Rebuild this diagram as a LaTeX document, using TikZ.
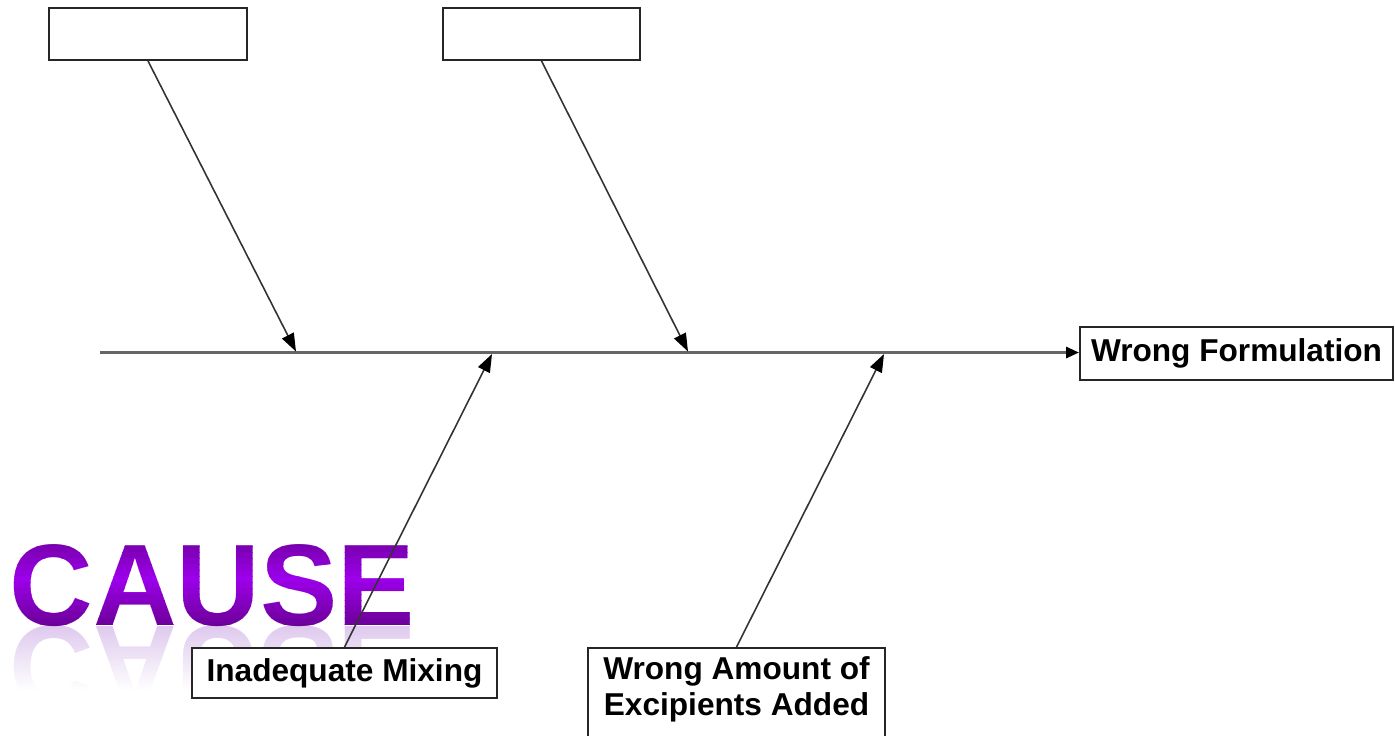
\documentclass[tikz,border=0pt]{standalone}
\usepackage{fontspec}
\setmainfont{Liberation Sans}
\usetikzlibrary{arrows.meta,fadings}

\definecolor{causebright}{HTML}{9C00EA}
\definecolor{causedark}{HTML}{6A0096}
\definecolor{causeglow}{HTML}{D2B4E8}
\tikzfading[name=reflectfade, top color=transparent!100, bottom color=transparent!0]

\begin{document}
\begin{tikzpicture}[x=0.02cm, y=-0.02cm,
  labelbox/.style={draw=black!85, line width=1.1pt, fill=white,
    font=\fontsize{18}{20.5}\selectfont\bfseries, inner sep=0pt},
  labeltext/.style={font=\fontsize{18}{20.5}\selectfont\bfseries, inner sep=0pt, align=center},
  branch/.style={draw=black!80, line width=0.9pt, -{Triangle[length=0.36cm,width=0.26cm,color=black]}},
  spine/.style={draw=black!60, line width=1.6pt, -{Triangle[length=0.26cm,width=0.22cm,color=black]}},
  causetext/.style={font=\fontsize{66}{66}\selectfont\bfseries, inner sep=0pt, anchor=base west}]

\useasboundingbox (0,0) rectangle (1395,735);

% mirrored "CAUSE" below the word, fading into the background
\node[causetext, text=causeglow, yscale=-1, transform shape] (causemirror) at (9,626) {CAUSE};
\fill[white, path fading=reflectfade] (0,600) rectangle (440,690);
\fill[white] (0,690) rectangle (440,735);

% the word itself, shaded in horizontal bands: dark at top and bottom, bright in the middle
\foreach \i in {0,...,16}{
  \pgfmathtruncatemacro{\mixval}{abs(\i-8)*100/8}
  \begin{scope}
    \clip (0,{528+6*\i}) rectangle (440,{534.5+6*\i});
    \node[causetext, text=causedark!\mixval!causebright] (cause\i) at (9,625) {CAUSE};
  \end{scope}
}

% effect box and spine
\node[labelbox, minimum width=6.26cm, minimum height=1.06cm] (effect) at (1236.5,353.5) {Wrong Formulation};
\coordinate (tail) at (100,352.5);
\draw[spine] (tail) -- (effect.west |- tail);

% points where the bones meet the spine
\coordinate (s1) at (296,351.5);
\coordinate (s2) at (688,351.5);
\coordinate (s3) at (492,354);
\coordinate (s4) at (884,354);

% upper cause boxes (empty)
\node[labelbox, minimum width=3.96cm, minimum height=1.04cm] (top1) at (148,34) {};
\node[labelbox, minimum width=3.94cm, minimum height=1.04cm] (top2) at (541.5,34) {};

% lower cause boxes
\node[labelbox, minimum width=6.1cm, minimum height=1cm] (mixing) at (344.5,673) {Inadequate Mixing};
\node[labelbox, minimum width=5.94cm, minimum height=1.9cm, anchor=north] (amount) at (736.5,647) {};
\node[labeltext] (amounttext) at (736.5,689) {Wrong Amount of\\Excipients Added};

% bones
\draw[branch] (top1.south) -- (s1);
\draw[branch] (top2.south) -- (s2);
\draw[branch] (mixing.north) -- (s3);
\draw[branch] (amount.north) -- (s4);

\end{tikzpicture}
\end{document}
